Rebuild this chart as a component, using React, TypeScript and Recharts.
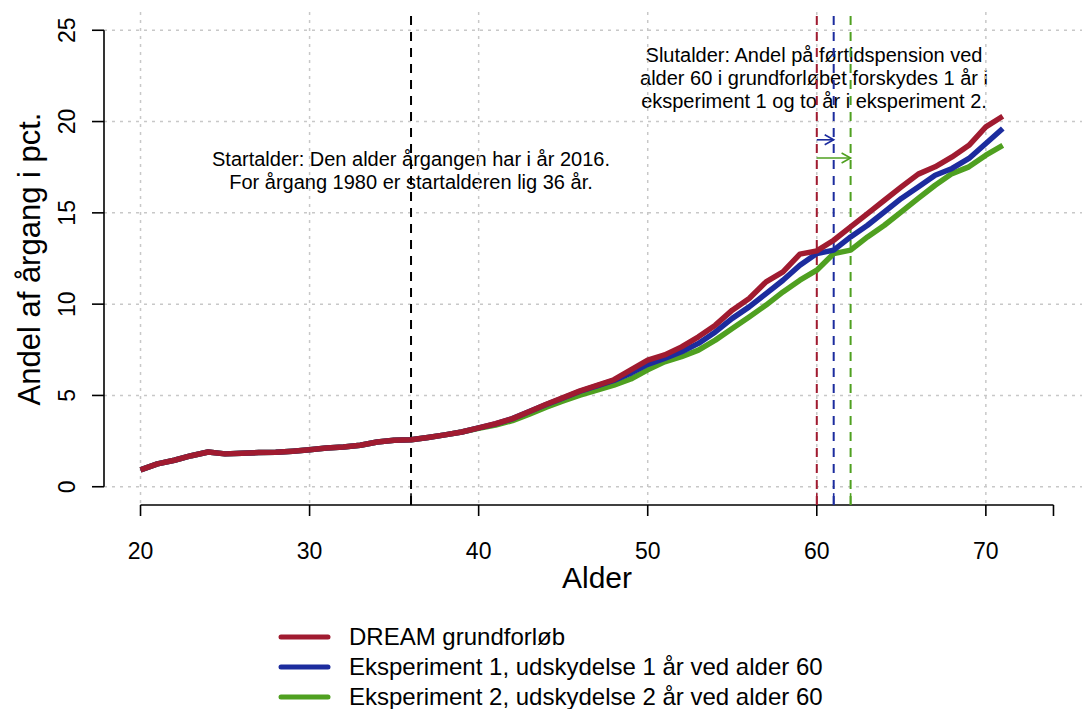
import { LineChart, Line, XAxis, YAxis, CartesianGrid, ReferenceLine } from 'recharts';

const AGES = [
  20, 21, 22, 23, 24, 25, 26, 27, 28, 29, 30, 31, 32, 33, 34, 35, 36, 37, 38, 39,
  40, 41, 42, 43, 44, 45, 46, 47, 48, 49, 50, 51, 52, 53, 54, 55, 56, 57, 58, 59,
  60, 61, 62, 63, 64, 65, 66, 67, 68, 69, 70, 71,
];

const DREAM = [
  0.92, 1.25, 1.45, 1.7, 1.9, 1.8, 1.83, 1.87, 1.89, 1.95, 2.03, 2.12, 2.18, 2.27, 2.45, 2.55, 2.57, 2.7, 2.84, 3.0,
  3.22, 3.45, 3.73, 4.12, 4.52, 4.88, 5.25, 5.55, 5.86, 6.4, 6.93, 7.22, 7.66, 8.21, 8.85, 9.67, 10.31, 11.22, 11.77, 12.74,
  12.92, 13.5, 14.23, 14.96, 15.69, 16.42, 17.12, 17.52, 18.06, 18.7, 19.71, 20.29,
];

const EKSP1 = [
  0.92, 1.25, 1.45, 1.7, 1.9, 1.8, 1.83, 1.87, 1.89, 1.95, 2.03, 2.12, 2.18, 2.27, 2.45, 2.55, 2.57, 2.7, 2.84, 3.0,
  3.22, 3.44, 3.73, 4.12, 4.5, 4.86, 5.23, 5.53, 5.82, 6.22, 6.7, 7.03, 7.39, 7.85, 8.48, 9.22, 9.85, 10.58, 11.31, 12.13,
  12.77, 12.96, 13.68, 14.32, 15.05, 15.79, 16.42, 17.06, 17.43, 17.98, 18.8, 19.62,
];

const EKSP2 = [
  0.92, 1.25, 1.45, 1.7, 1.9, 1.8, 1.83, 1.87, 1.89, 1.95, 2.03, 2.12, 2.18, 2.27, 2.45, 2.55, 2.57, 2.7, 2.84, 3.0,
  3.2, 3.38, 3.62, 3.98, 4.36, 4.7, 5.02, 5.29, 5.56, 5.9, 6.4, 6.84, 7.12, 7.48, 8.03, 8.67, 9.3, 9.95, 10.67, 11.31,
  11.86, 12.77, 12.96, 13.68, 14.32, 15.05, 15.79, 16.51, 17.15, 17.52, 18.16, 18.7,
];

const X_TICKS = [20, 30, 40, 50, 60, 70, 74];
const X_LABELS = [20, 30, 40, 50, 60, 70];
const Y_TICKS = [0, 5, 10, 15, 20, 25];

const SERIES_NAMES = [
  'DREAM grundforløb',
  'Eksperiment 1, udskydelse 1 år ved alder 60',
  'Eksperiment 2, udskydelse 2 år ved alder 60',
];
const COLORS = ['#a01b30', '#1c2c9e', '#4fa020'];

const START_AGE = 36;
const END_AGES = [60, 61, 62];
const START_TEXT = ['Startalder: Den alder årgangen har i år 2016.', 'For årgang 1980 er startalderen lig 36 år.'];
const END_TEXT = [
  'Slutalder: Andel på førtidspension ved',
  'alder 60 i grundforløbet forskydes 1 år i',
  'eksperiment 1 og to år i eksperiment 2.',
];

const data = AGES.map((age, i) => ({ age, dream: DREAM[i], e1: EKSP1[i], e2: EKSP2[i] }));

const FONT = '"Liberation Sans", Arial, sans-serif';

function XTick(props: any) {
  const { x, y, payload } = props;
  if (!X_LABELS.includes(payload.value)) return <g />;
  return (
    <text x={x} y={y + 41} textAnchor="middle" fontSize={23} fontFamily={FONT} fill="#000">
      {payload.value}
    </text>
  );
}

function YTick(props: any) {
  const { x, y, payload } = props;
  return (
    <text transform={`translate(${x - 15},${y}) rotate(-90)`} textAnchor="middle" fontSize={23} fontFamily={FONT} fill="#000">
      {payload.value}
    </text>
  );
}

function Arrow(props: any) {
  const { x1, y1, x2, y2, stroke } = props;
  return (
    <g>
      <line x1={x1} y1={y1} x2={x2} y2={y2} stroke={stroke} strokeWidth={1.6} />
      <polyline points={`${x2 - 9},${y2 - 5} ${x2},${y2} ${x2 - 9},${y2 + 5}`} fill="none" stroke={stroke} strokeWidth={1.6} />
    </g>
  );
}

export default function App() {
  return (
    <div style={{ position: 'absolute', left: 0, top: 0, width: 1082, height: 709, overflow: 'hidden', background: '#fff' }}>
      <svg width={1082} height={709} style={{ position: 'absolute', left: 0, top: 0 }} fontFamily={FONT}>
        <text transform="translate(40,259) rotate(-90)" textAnchor="middle" fontSize={31} fill="#000">
          Andel af årgang i pct.
        </text>
        <text x={597} y={588} textAnchor="middle" fontSize={30} fill="#000">
          Alder
        </text>
        {START_TEXT.map((t, i) => (
          <text key={t} x={411} y={166 + i * 23} textAnchor="middle" fontSize={20} fill="#000">
            {t}
          </text>
        ))}
        {END_TEXT.map((t, i) => (
          <text key={t} x={814} y={62 + i * 23} textAnchor="middle" fontSize={20} fill="#000">
            {t}
          </text>
        ))}
        {SERIES_NAMES.map((name, i) => (
          <g key={name}>
            <line x1={281} x2={328} y1={637 + i * 30} y2={637 + i * 30} stroke={COLORS[i]} strokeWidth={5} strokeLinecap="round" />
            <text x={349} y={645 + i * 30} fontSize={24} fill="#000">
              {name}
            </text>
          </g>
        ))}
      </svg>
      <div style={{ position: 'absolute', left: 0, top: 0 }}>
        <LineChart width={1090} height={709} data={data} margin={{ top: 12, right: 0, left: 0, bottom: 0 }}>
          <CartesianGrid
            stroke="#c8c8c8"
            strokeDasharray="3 5"
            strokeWidth={1.5}
            verticalValues={X_LABELS}
            horizontalValues={Y_TICKS}
          />
          <XAxis
            dataKey="age"
            type="number"
            domain={[17.84, 76.16]}
            allowDataOverflow
            ticks={X_TICKS}
            tick={<XTick />}
            tickSize={11}
            tickLine={{ stroke: '#000', strokeWidth: 1.6 }}
            axisLine={false}
            height={204}
            interval={0}
          />
          <YAxis
            type="number"
            domain={[-1, 26]}
            allowDataOverflow
            ticks={Y_TICKS}
            tick={<YTick />}
            tickSize={12}
            tickLine={{ stroke: '#000', strokeWidth: 1.6 }}
            axisLine={false}
            width={104}
            interval={0}
          />
          <ReferenceLine segment={[{ x: 20, y: -1 }, { x: 74, y: -1 }]} stroke="#000" strokeWidth={1.6} ifOverflow="visible" />
          <ReferenceLine segment={[{ x: 17.84, y: 0 }, { x: 17.84, y: 25 }]} stroke="#000" strokeWidth={1.6} ifOverflow="visible" />
          <ReferenceLine x={START_AGE} stroke="#000" strokeWidth={2} strokeDasharray="9 7" ifOverflow="visible" />
          <ReferenceLine segment={[{ x: START_AGE, y: -1 }, { x: START_AGE, y: -0.35 }]} stroke="#000" strokeWidth={1.6} ifOverflow="visible" />
          {END_AGES.map((a, i) => (
            <ReferenceLine key={`v${a}`} x={a} stroke={COLORS[i]} strokeWidth={2} strokeDasharray="9 7" ifOverflow="visible" />
          ))}
          {END_AGES.map((a, i) => (
            <ReferenceLine
              key={`t${a}`}
              segment={[{ x: a, y: -1 }, { x: a, y: -0.35 }]}
              stroke={COLORS[i]}
              strokeWidth={1.6}
              ifOverflow="visible"
            />
          ))}
          <ReferenceLine
            segment={[{ x: 60, y: 19 }, { x: 61, y: 19 }]}
            stroke={COLORS[1]}
            ifOverflow="visible"
            shape={(p: any) => <Arrow {...p} stroke={COLORS[1]} />}
          />
          <ReferenceLine
            segment={[{ x: 60, y: 18 }, { x: 62, y: 18 }]}
            stroke={COLORS[2]}
            ifOverflow="visible"
            shape={(p: any) => <Arrow {...p} stroke={COLORS[2]} />}
          />
          <Line dataKey="e2" stroke={COLORS[2]} strokeWidth={5.5} dot={false} isAnimationActive={false} strokeLinejoin="round" />
          <Line dataKey="e1" stroke={COLORS[1]} strokeWidth={5.5} dot={false} isAnimationActive={false} strokeLinejoin="round" />
          <Line dataKey="dream" stroke={COLORS[0]} strokeWidth={5.5} dot={false} isAnimationActive={false} strokeLinejoin="round" />
        </LineChart>
      </div>
    </div>
  );
}
